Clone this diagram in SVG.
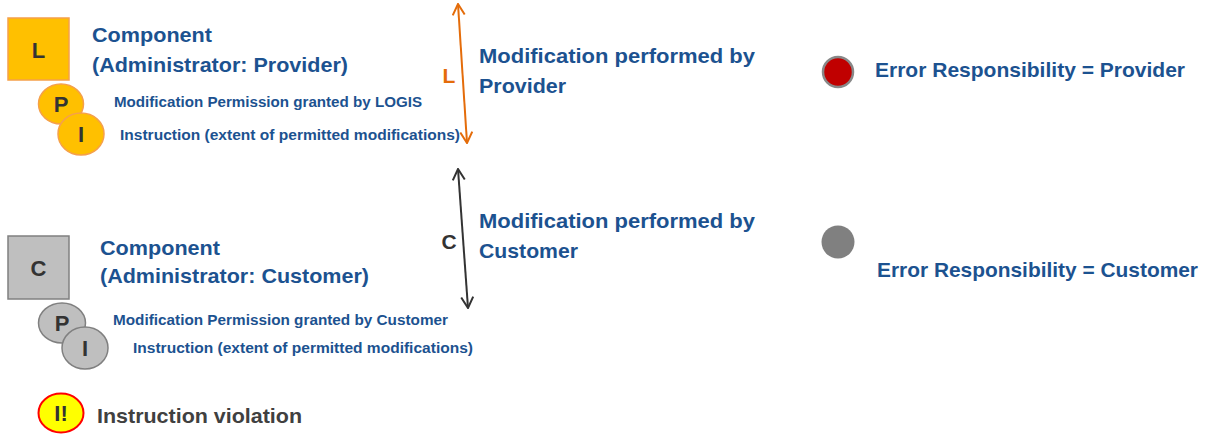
<svg xmlns="http://www.w3.org/2000/svg" width="1208" height="434" viewBox="0 0 1208 434">
<style>
text{font-family:"Liberation Sans",Arial,sans-serif;font-weight:bold}
.t{fill:#1C5290;font-size:21px}
.s{fill:#1C5290;font-size:14px}
.g{fill:#333;font-size:22px;text-anchor:middle}
.conn{fill:none;stroke-width:2}
</style>
<defs>
<marker id="ao" viewBox="0 0 14 14" refX="13" refY="7" markerWidth="14" markerHeight="14" markerUnits="userSpaceOnUse" orient="auto-start-reverse"><path d="M2,1 L13,7 L2,13" fill="none" stroke="#E46C0A" stroke-width="2"/></marker>
<marker id="ad" viewBox="0 0 14 14" refX="13" refY="7" markerWidth="14" markerHeight="14" markerUnits="userSpaceOnUse" orient="auto-start-reverse"><path d="M2,1 L13,7 L2,13" fill="none" stroke="#333" stroke-width="2"/></marker>
</defs>
<rect width="1208" height="434" fill="#fff"/>
<g id="provider-component">
<rect x="8" y="18" width="61" height="62" fill="#FFC000" stroke="#F5A04A" stroke-width="1.5"/>
<text class="g" x="38.5" y="58">L</text>
<text class="t" x="92" y="42" textLength="120" lengthAdjust="spacingAndGlyphs">Component</text>
<text class="t" x="92" y="72" textLength="256" lengthAdjust="spacingAndGlyphs">(Administrator: Provider)</text>
</g>
<g id="provider-permission">
<ellipse cx="61" cy="104" rx="22.5" ry="20" fill="#FFC000" stroke="#F5A04A" stroke-width="1.5"/>
<text class="g" x="61" y="112">P</text>
<text class="s" x="114" y="107" textLength="308" lengthAdjust="spacingAndGlyphs">Modification Permission granted by LOGIS</text>
</g>
<g id="provider-instruction">
<ellipse cx="81" cy="134" rx="23" ry="21" fill="#FFC000" stroke="#F5A04A" stroke-width="1.5"/>
<text class="g" x="81" y="142">I</text>
<text class="s" x="120" y="140" textLength="340" lengthAdjust="spacingAndGlyphs">Instruction (extent of permitted modifications)</text>
</g>
<g id="customer-component">
<rect x="8" y="236" width="61" height="63" fill="#BFBFBF" stroke="#808080" stroke-width="1.5"/>
<text class="g" x="38.5" y="276">C</text>
<text class="t" x="100" y="255" textLength="120" lengthAdjust="spacingAndGlyphs">Component</text>
<text class="t" x="100" y="283" textLength="269" lengthAdjust="spacingAndGlyphs">(Administrator: Customer)</text>
</g>
<g id="customer-permission">
<ellipse cx="62" cy="323" rx="23.5" ry="20" fill="#BFBFBF" stroke="#808080" stroke-width="1.5"/>
<text class="g" x="62" y="331">P</text>
<text class="s" x="113" y="325" textLength="335" lengthAdjust="spacingAndGlyphs">Modification Permission granted by Customer</text>
</g>
<g id="customer-instruction">
<ellipse cx="85" cy="348" rx="23" ry="21" fill="#BFBFBF" stroke="#808080" stroke-width="1.5"/>
<text class="g" x="85" y="356">I</text>
<text class="s" x="133" y="353" textLength="340" lengthAdjust="spacingAndGlyphs">Instruction (extent of permitted modifications)</text>
</g>
<g id="violation">
<ellipse cx="61" cy="413" rx="22.5" ry="19.5" fill="#FFFF00" stroke="#FF0000" stroke-width="2"/>
<text class="g" x="61" y="421">I!</text>
<text x="97" y="423" fill="#404040" font-size="21" textLength="205" lengthAdjust="spacingAndGlyphs">Instruction violation</text>
</g>
<g id="connectors">
<line class="conn" x1="458" y1="4" x2="467" y2="143" stroke="#E46C0A" marker-start="url(#ao)" marker-end="url(#ao)"/>
<line class="conn" x1="458" y1="169" x2="468" y2="308" stroke="#333" marker-start="url(#ad)" marker-end="url(#ad)"/>
</g>
<g id="label-provider">
<text x="449" y="83" fill="#E46C0A" font-size="21" text-anchor="middle">L</text>
<text class="t" x="479" y="63" textLength="276" lengthAdjust="spacingAndGlyphs">Modification performed by</text>
<text class="t" x="479" y="93" textLength="87" lengthAdjust="spacingAndGlyphs">Provider</text>
</g>
<g id="label-customer">
<text x="449" y="249" fill="#333" font-size="21" text-anchor="middle">C</text>
<text class="t" x="479" y="228" textLength="276" lengthAdjust="spacingAndGlyphs">Modification performed by</text>
<text class="t" x="479" y="258" textLength="99" lengthAdjust="spacingAndGlyphs">Customer</text>
</g>
<g id="error-provider">
<circle cx="838" cy="72" r="15" fill="#C00000" stroke="#888" stroke-width="2.5"/>
<text class="t" x="875" y="77" textLength="310" lengthAdjust="spacingAndGlyphs">Error Responsibility = Provider</text>
</g>
<g id="error-customer">
<circle cx="838" cy="242" r="16.5" fill="#808080"/>
<text class="t" x="877" y="277" textLength="321" lengthAdjust="spacingAndGlyphs">Error Responsibility = Customer</text>
</g>
</svg>
